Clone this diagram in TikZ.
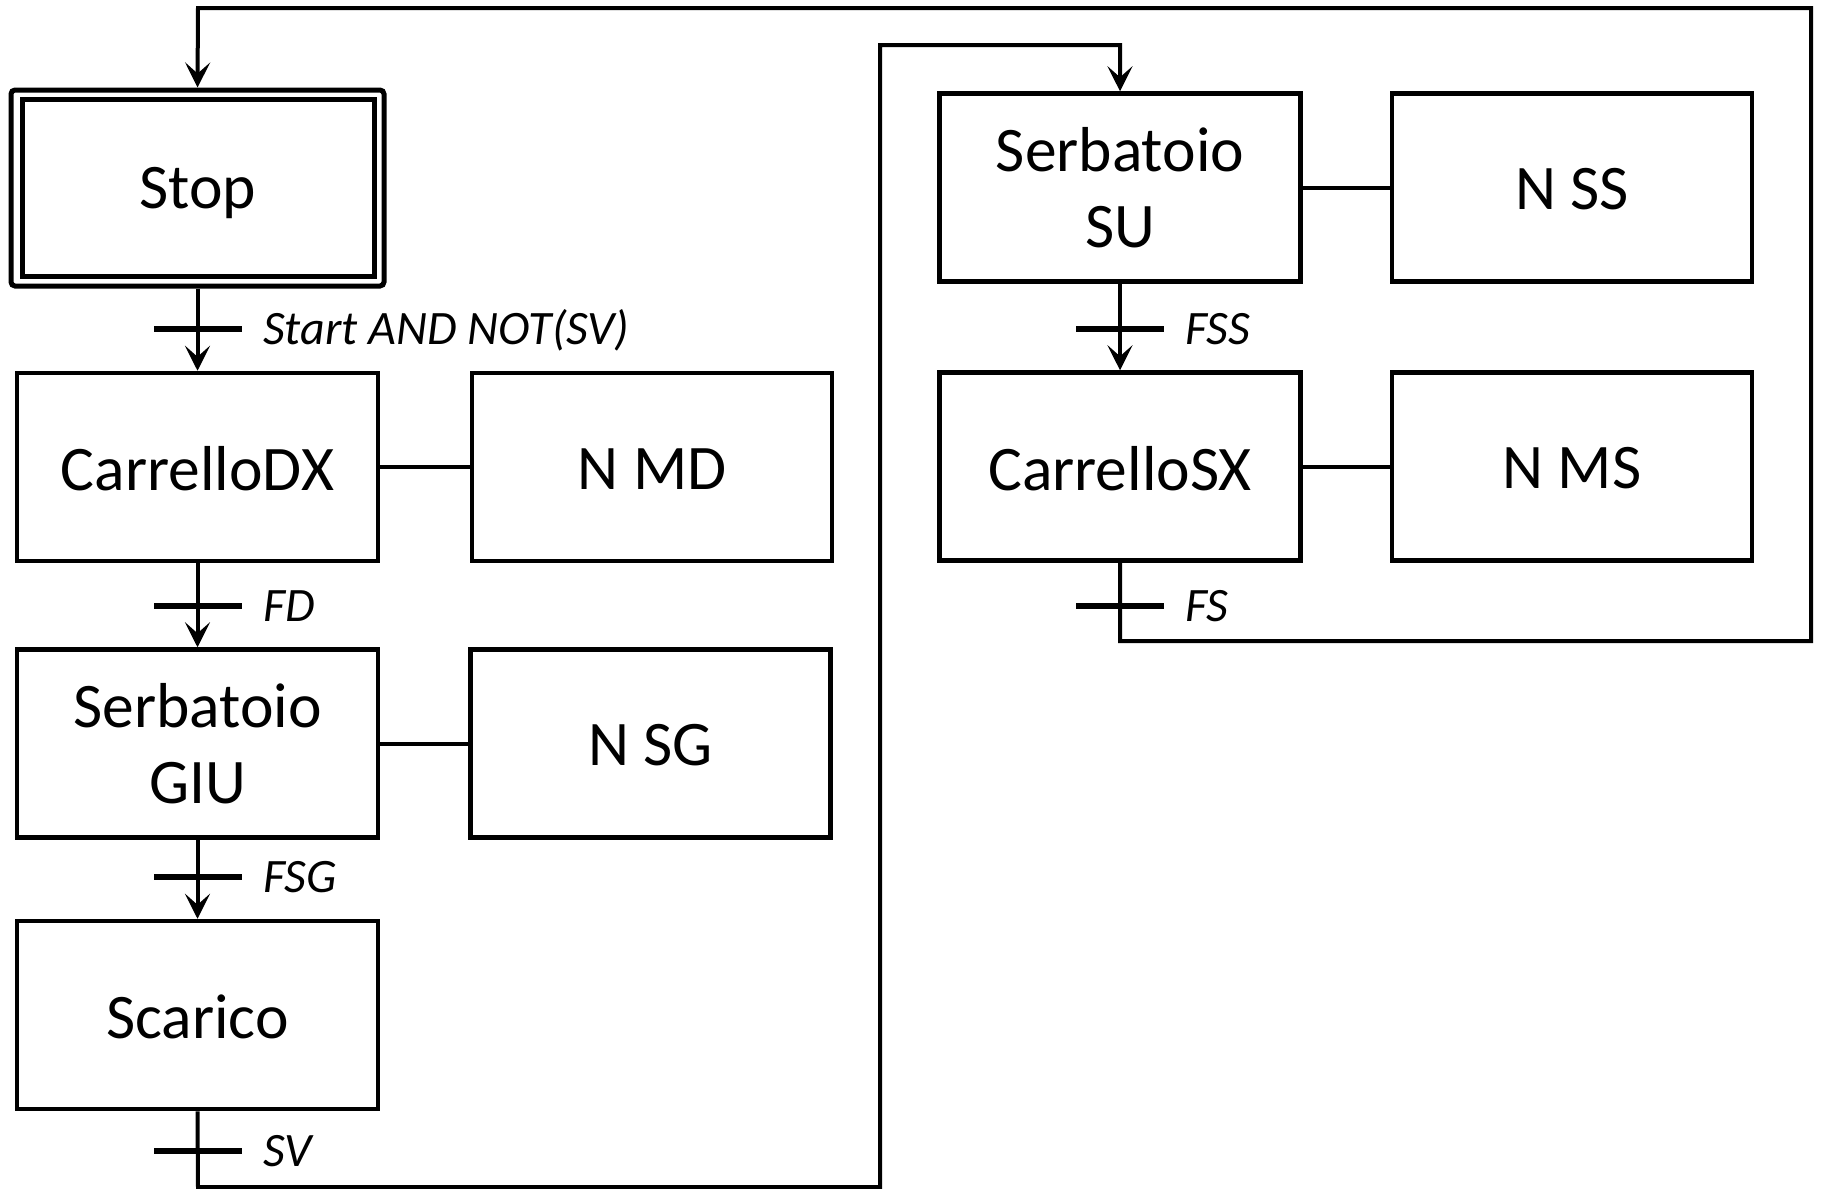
\documentclass[tikz,border=0pt]{standalone}
\usepackage{fontspec}
\setmainfont{Carlito}
\usetikzlibrary{arrows.meta}
\newcommand{\lowtxt}[2]{\raisebox{-#1}[\height][\depth]{#2}}
\begin{document}
\begin{tikzpicture}[x=1pt,y=-1pt,
  >={Stealth[length=25pt,width=25pt,inset=11pt]},
  stepbox/.style={draw,line width=4.5pt,minimum width=361pt,minimum height=188pt,inner sep=0pt,align=center,font=\fontsize{63.5}{76}\selectfont},
  actbox/.style={stepbox,minimum width=360pt},
  link/.style={line width=4pt},
  flow/.style={line width=4pt,->},
  trbar/.style={line width=5.5pt},
  trlabel/.style={anchor=base west,inner sep=0pt,font=\fontsize{48}{54}\itshape\selectfont}
]
\fill[white] (0,0) rectangle (1824,1189);
\useasboundingbox (0,0) rectangle (1824,1189);

% Stop (double box)
\node[draw,line width=5pt,rounded corners=4pt,minimum width=373pt,minimum height=196pt] (stopo) at (197.5,188) {};
\node[stepbox,line width=5pt,minimum width=352pt,minimum height=177pt] (stop) at (198,187.5) {\lowtxt{6pt}{Stop}};

% left column
\node[stepbox] (cdx) at (197.5,467) {\lowtxt{2pt}{CarrelloDX}};
\node[actbox] (nmd) at (652,467) {\lowtxt{2pt}{N MD}};
\node[stepbox] (sgiu) at (197.5,743.5) {Serbatoio\\GIU};
\node[actbox] (nsg) at (650.5,743.5) {\lowtxt{2pt}{N SG}};
\node[stepbox] (scarico) at (197.5,1015) {\lowtxt{2pt}{Scarico}};

% right column
\node[stepbox] (ssu) at (1120,187.5) {Serbatoio\\SU};
\node[actbox] (nss) at (1572,187.5) {\lowtxt{2pt}{N SS}};
\node[stepbox] (csx) at (1120,466.5) {\lowtxt{2pt}{CarrelloSX}};
\node[actbox] (nms) at (1572,466.5) {\lowtxt{2pt}{N MS}};

% action links
\draw[link] (cdx.east) -- (nmd.west);
\draw[link] (sgiu.east) -- (nsg.west);
\draw[link] (ssu.east) -- (nss.west);
\draw[link] (csx.east) -- (nms.west);

% flow arrows
\draw[flow] (stopo.south) -- (cdx.north);
\draw[flow] (cdx.south) -- (sgiu.north);
\draw[flow] (sgiu.south) -- (scarico.north);
\draw[flow] (ssu.south) -- (csx.north);

\coordinate (b1) at (198,1187);
\coordinate (b2) at (880,45);
\draw[flow,line join=miter] (scarico.south) -- (b1) -| (b2) -| (ssu.north);

\coordinate (r1) at (1811,641);
\coordinate (r2) at (198,8);
\draw[flow,line join=miter] (csx.south) |- (r1) |- (r2) -- (stopo.north);

% transitions
\coordinate (t1) at (198,329);
\coordinate (t2) at (198,606);
\coordinate (t3) at (198,877);
\coordinate (t4) at (198,1151);
\coordinate (t5) at (1120,329);
\coordinate (t6) at (1120,606);
\foreach \t in {t1,t2,t3,t4,t5,t6}{
  \draw[trbar] ([xshift=-44pt]\t) -- ([xshift=44pt]\t);
}
\node[trlabel] (l1) at ([xshift=65pt,yshift=-15.5pt]t1) {Start AND NOT(SV)};
\node[trlabel] (l2) at ([xshift=65pt,yshift=-15.5pt]t2) {FD};
\node[trlabel] (l3) at ([xshift=65pt,yshift=-15.5pt]t3) {FSG};
\node[trlabel] (l4) at ([xshift=65pt,yshift=-15.5pt]t4) {SV};
\node[trlabel] (l5) at ([xshift=65pt,yshift=-15.5pt]t5) {FSS};
\node[trlabel] (l6) at ([xshift=65pt,yshift=-15.5pt]t6) {FS};
\end{tikzpicture}
\end{document}
